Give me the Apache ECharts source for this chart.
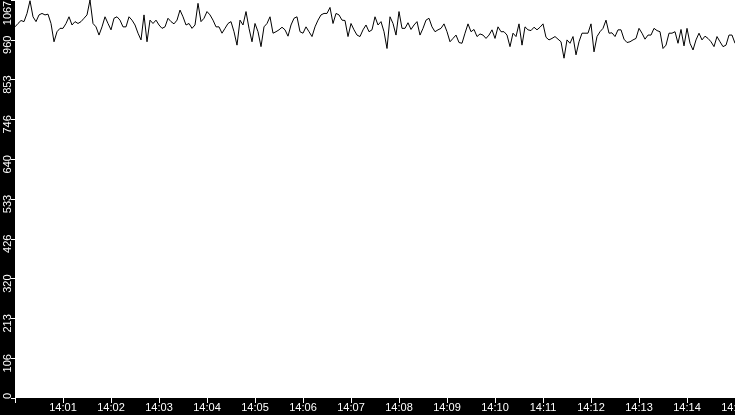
<!DOCTYPE html>
<html><head><meta charset="utf-8">
<script src="https://cdn.jsdelivr.net/npm/echarts@6/dist/echarts.min.js"></script>
<style>html,body{margin:0;padding:0;background:#000;}#c{width:735px;height:415px;}</style>
</head><body><div id="c"></div>
<script>
// values, one every 3.75 s starting 14:00:00
const seg1=[995,1004,1012,1009,1031,1065,1022,1009,1027,1031,1027,1029,1004,955,982,991,991,1004,1022,1000,1009,1004,1009,1018,1027,1067,1004,995,973,995,1022,1004,987,1018,1022,1013,995,995,1022,1013];
const seg2=[1000,978,960,1027,955,1013,1004,1013,1000,991,995,1018,1009,1003,1013,1040,1022,1000,1004,991,1000,1058,1009,1018,1036,1027,1013,995,995,978,991,1004,1009,982,946,1013,1000,1036,991,955];
const seg3=[1004,982,942,995,1004,1022,978,982,987,994,987,970,1000,1018,1022,982,978,995,982,969,995,1013,1027,1031,1031,1047,1004,1031,1027,1013,1012,969,1004,987,973,969,987,1000,982,987];
const seg4=[1022,1000,1009,982,937,1022,1004,973,1036,991,991,1006,988,1000,1009,973,991,1013,1018,995,982,987,991,1003,982,955,964,973,953,951,978,1003,982,988,969,976,973,964,973,987];
const seg5=[964,995,982,982,973,942,978,969,1003,946,995,987,985,994,987,994,1003,967,960,964,969,962,955,911,960,951,969,920,955,978,978,978,1003,928,969,982,991,1013,978,979];
const seg6=[969,987,987,962,953,955,960,964,991,978,962,973,973,991,985,982,937,946,978,978,982,951,988,944,991,951,933,960,978,960,970,964,955,942,969,955,942,946,973,973,951];
const yTickLabels=[0,106,213,320,426,533,640,746,853,960,1067];
const startTime=new Date(2024,0,1,14,0,0).getTime();
const endTime=new Date(2024,0,1,14,15,0).getTime();
const stepMs=3750;

const values=[].concat(seg1,seg2,seg3,seg4,seg5,seg6);
const points=values.map((v,i)=>[startTime+i*stepMs,v]);

const font='Liberation Sans';
function pad2(n){return (n<10?'0':'')+n;}
const chart=echarts.init(document.getElementById('c'),null,{renderer:'canvas'});
chart.setOption({
  animation:false,
  backgroundColor:'#000',
  grid:{left:15,right:0,top:0,bottom:17,show:true,backgroundColor:'#fff',borderWidth:0,containLabel:false,outerBoundsMode:'none'},
  xAxis:{
    type:'time',min:startTime,max:endTime,minInterval:60000,maxInterval:60000,splitNumber:15,
    axisLine:{show:false},
    axisTick:{show:true,length:5,lineStyle:{color:'#fff',width:1}},
    axisLabel:{color:'#fff',fontFamily:font,fontSize:11,margin:4,showMinLabel:false,showMaxLabel:true,hideOverlap:false,
      formatter:function(v){if(v<=startTime)return '';const d=new Date(v);return pad2(d.getHours())+':'+pad2(d.getMinutes());}},
    splitLine:{show:false}
  },
  yAxis:{
    type:'value',min:0,max:1067,interval:106.7,
    axisLine:{show:false},
    axisTick:{show:true,length:4,lineStyle:{color:'#fff',width:1}},
    splitLine:{show:false},
    axisLabel:{
      rotate:90,color:'#fff',fontFamily:font,fontSize:11,margin:2,
      formatter:function(v,i){const t=String(yTickLabels[i]);return '{d'+t.length+'|'+t+'}';},
      rich:{
        d1:{color:'#fff',fontFamily:font,fontSize:11,padding:[0,0,0,4]},
        d3:{color:'#fff',fontFamily:font,fontSize:11,padding:[0,10,0,0]},
        d4:{color:'#fff',fontFamily:font,fontSize:11,padding:[0,26,0,0]}
      }
    }
  },
  series:[{type:'line',data:points,symbol:'none',showSymbol:false,lineStyle:{color:'#000',width:1},silent:true}]
});
</script></body></html>
